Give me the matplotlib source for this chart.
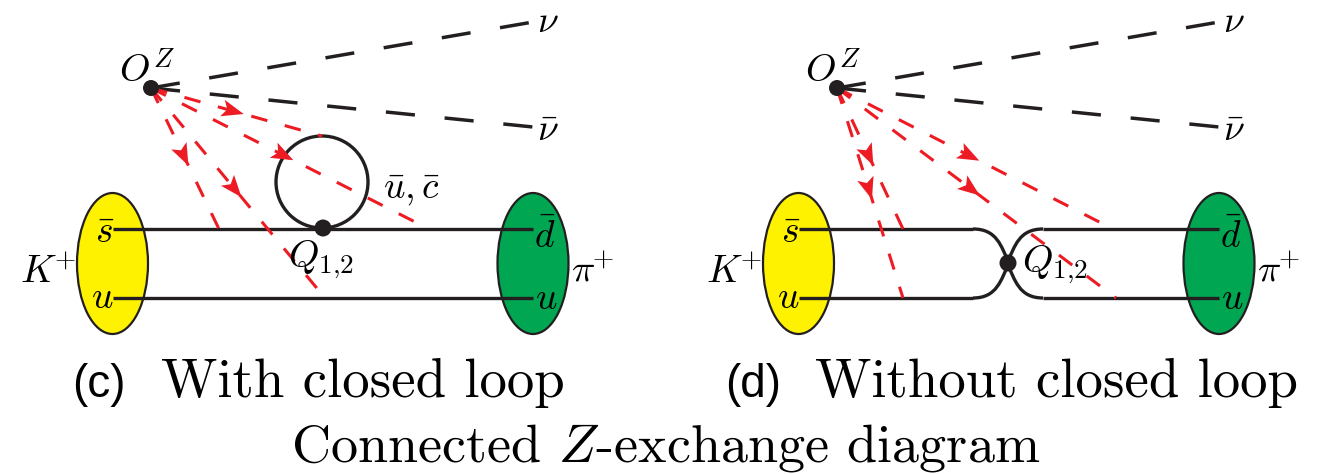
import numpy as np
import matplotlib.pyplot as plt
from matplotlib.patches import Ellipse, Circle, Polygon, PathPatch
from matplotlib.path import Path

plt.rcParams['mathtext.fontset'] = 'cm'
plt.rcParams['lines.scale_dashes'] = False

# Diagram geometry (pixels, y downwards), panel (c) frame; panel (d) is shifted right
panel_shift = [0, 686]
oz_vertex = (151, 88)
nu_end = (533, 22)
nubar_end = (533, 127)
quark_y = [229, 298]
kaon_x, pion_x = 112.5, 533
meson_w, meson_h = 71, 141
loop_center, loop_r = (322, 182), 46
q_vertex_c = (323, 228)
q_vertex_d = (322, 263)
red_ends_c = [(219, 229), (325, 298), (322, 136), (427, 228)]
red_ends_d = [(217, 229), (217, 298), (427, 229), (430, 298)]
captions = [r'With closed loop', r'Without closed loop']
caption_tags = ['(c)', '(d)']
caption_tag_x = [72, 725]
caption_x = [161, 815]

BLACK = '#231f20'
RED = '#ed1c24'
YELLOW = '#fff200'
GREEN = '#00a651'

fig = plt.figure(figsize=(13.26, 4.74), dpi=100)
ax = fig.add_axes([0, 0, 1, 1])
ax.set_xlim(0, 1326)
ax.set_ylim(474, 0)
ax.set_aspect('equal')
ax.axis('off')


def arrowhead(p0, p1, t=0.48, length=22, half=8.5):
    p0, p1 = np.array(p0, float), np.array(p1, float)
    d = (p1 - p0) / np.linalg.norm(p1 - p0)
    n = np.array([-d[1], d[0]])
    c = p0 + t * (p1 - p0)
    tip = c + d * length / 2
    back = c - d * length / 2
    notch = back + d * 5
    pts = [tip, back + n * half, notch, back - n * half]
    ax.add_patch(Polygon(pts, closed=True, fc=RED, ec='none', zorder=4))


def draw_panel(dx, closed_loop):
    ox, oy = oz_vertex[0] + dx, oz_vertex[1]

    # neutrino legs
    for end in (nu_end, nubar_end):
        ax.plot([ox, end[0] + dx], [oy, end[1]], color=BLACK, lw=2.5,
                dashes=(21, 21.5), solid_capstyle='butt', zorder=3)
    ax.text(nu_end[0] + dx + 4, nu_end[1] + 10, r'$\nu$', fontsize=27,
            ha='left', va='baseline')
    ax.text(nubar_end[0] + dx + 4, nubar_end[1] + 13, r'$\bar{\nu}$', fontsize=27,
            ha='left', va='baseline')

    # mesons
    for mx, col in ((kaon_x, YELLOW), (pion_x, GREEN)):
        ax.add_patch(Ellipse((mx + dx, 263.5), meson_w, meson_h, fc=col,
                             ec=BLACK, lw=1.6, zorder=1))

    # quark lines
    if closed_loop:
        for y in quark_y:
            ax.plot([kaon_x + dx, pion_x + dx], [y, y], color=BLACK, lw=2.4,
                    solid_capstyle='butt', zorder=2)
        ax.add_patch(Circle((loop_center[0] + dx, loop_center[1]), loop_r,
                            fc='none', ec=BLACK, lw=2.4, zorder=2))
        qx, qy = q_vertex_c
    else:
        qx, qy = q_vertex_d
        xl, xr = qx - 35, qx + 35
        y0, y1 = quark_y
        for y in quark_y:
            ax.plot([kaon_x + dx, xl + dx], [y, y], color=BLACK, lw=2.4,
                    solid_capstyle='butt', zorder=2)
            ax.plot([xr + dx, pion_x + dx], [y, y], color=BLACK, lw=2.4,
                    solid_capstyle='butt', zorder=2)
        for s, x0 in ((1, xl), (-1, xr)):
            verts = [(x0, y0), (x0 + s * 24, y0), (qx - s * 7, qy - 17), (qx + s * 1, qy),
                     (qx - s * 7, qy + 17), (x0 + s * 24, y1), (x0, y1)]
            verts = [(vx + dx, vy) for vx, vy in verts]
            codes = [Path.MOVETO] + [Path.CURVE4] * 6
            ax.add_patch(PathPatch(Path(verts, codes), fc='none', ec=BLACK,
                                   lw=2.4, zorder=2))
    ax.add_patch(Circle((qx + dx, qy), 8.5, fc=BLACK, ec='none', zorder=5))

    # Z-boson operator legs
    ends = red_ends_c if closed_loop else red_ends_d
    for ex, ey in ends:
        ax.plot([ox, ex + dx], [oy, ey], color=RED, lw=2.2, dashes=(12, 13),
                zorder=3)
        arrowhead((ox, oy), (ex + dx, ey))
    ax.add_patch(Circle((ox, oy), 8, fc=BLACK, ec='none', zorder=5))

    # labels
    ax.text(ox - 32, oy - 6, r'$O^Z$', fontsize=28, ha='left', va='baseline')
    ax.text(kaon_x + dx - 8, 242, r'$\bar{s}$', fontsize=27, ha='center', va='baseline')
    ax.text(kaon_x + dx - 10, 308, r'$u$', fontsize=27, ha='center', va='baseline')
    ax.text(pion_x + dx + 12, 247, r'$\bar{d}$', fontsize=27, ha='center', va='baseline')
    ax.text(pion_x + dx + 13, 309, r'$u$', fontsize=27, ha='center', va='baseline')
    ax.text(kaon_x + dx - 37, 283, r'$K^{\!\!+}$', fontsize=28, ha='right', va='baseline')
    ax.text(pion_x + dx + 38, 282, r'$\pi^{\!\!+}$', fontsize=28, ha='left', va='baseline')
    if closed_loop:
        ax.text(288 + dx, 267, r'$Q_{1{,}2}$', fontsize=28, ha='left', va='baseline')
        ax.text(383 + dx, 198, r'$\bar{u},\bar{c}$', fontsize=27, ha='left', va='baseline')
    else:
        ax.text(qx + dx + 14, 272, r'$Q_{1{,}2}$', fontsize=28, ha='left', va='baseline')


for shift, loop in zip(panel_shift, (True, False)):
    draw_panel(shift, loop)

# sub-captions and overall caption
for tx, cx, tag, cap in zip(caption_tag_x, caption_x, caption_tags, captions):
    ax.text(tx, 397, tag, fontsize=33, family='Liberation Sans',
            ha='left', va='baseline')
    ax.text(cx, 397, cap, fontsize=39.5, family='cmr10',
            ha='left', va='baseline')
ax.text(666, 461, r'Connected $Z$-exchange diagram', fontsize=39, family='cmr10',
        ha='center', va='baseline')

fig.savefig('out.png', dpi=100)
